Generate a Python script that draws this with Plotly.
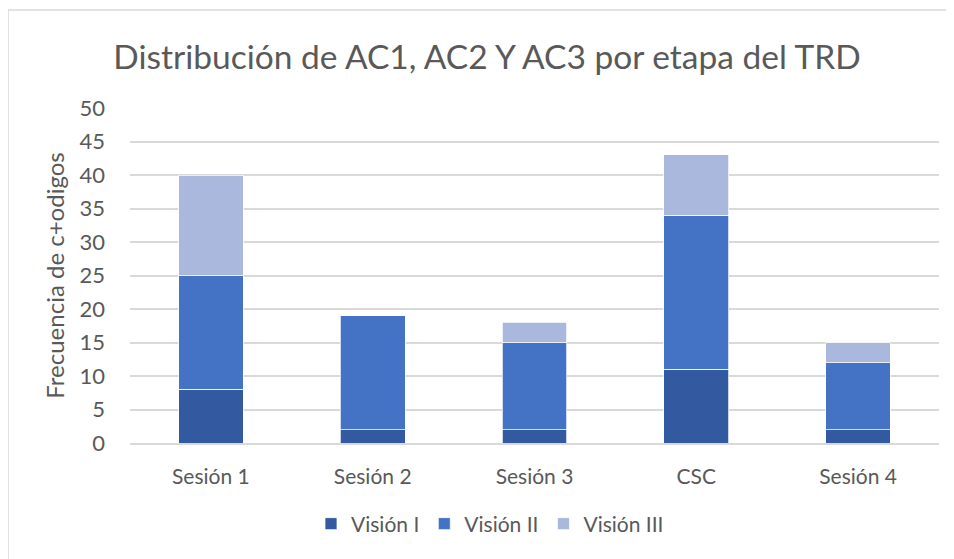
import plotly.graph_objects as go

categories = ["Sesión 1", "Sesión 2", "Sesión 3", "CSC", "Sesión 4"]
vision_i = [8, 2, 2, 11, 2]
vision_ii = [17, 17, 13, 23, 10]
vision_iii = [15, 0, 3, 9, 3]
series_names = ["Visión I", "Visión II", "Visión III"]
colors = ["#335AA1", "#4472C4", "#A9B8DC"]

FONT = "Lato, 'Open Sans', sans-serif"
TXT = "#595959"

fig = go.Figure()
for name, vals, col in zip(series_names, [vision_i, vision_ii, vision_iii], colors):
    fig.add_trace(go.Bar(
        x=categories, y=vals, name=name,
        marker=dict(color=col, line=dict(color="white", width=0.75)),
    ))

# page body has an 8px offset; figure coords = screen coords - 8
OFF = 8
W, H = 954, 559
L, R, T, B = 130 - OFF, W - (939 - OFF), 108 - OFF, H - (443 - OFF)
pw, ph = W - L - R, H - T - B

def px(x):
    return (x - OFF - L) / pw

def py(y):
    return (H - B - (y - OFF)) / ph

fig.update_layout(
    barmode="stack",
    bargap=0.6,
    width=W, height=H,
    margin=dict(l=L, r=R, t=T, b=B),
    paper_bgcolor="white", plot_bgcolor="white",
    font=dict(family=FONT, color=TXT, size=22),
    title=dict(
        text="Distribución de AC1, AC2 Y AC3 por etapa del TRD",
        x=(487 - OFF) / W, xanchor="center", y=1 - (57 - OFF) / H, yanchor="middle",
        font=dict(size=33.5, color=TXT, family=FONT),
    ),
    legend=dict(
        orientation="h", x=(490 - OFF) / W, xref="container", xanchor="center",
        y=1 - (524 - OFF) / H, yref="container", yanchor="middle",
        font=dict(size=21, color=TXT), traceorder="normal",
        itemwidth=30,
    ),
    xaxis=dict(
        showgrid=False, showline=True, linecolor="#D9D9D9", linewidth=1.5,
        ticks="", ticklabelstandoff=14, tickfont=dict(size=21, color=TXT),
    ),
    yaxis=dict(
        range=[0, 50], dtick=5, showgrid=True, gridcolor="#D9D9D9", gridwidth=1.5,
        zeroline=False, ticks="", ticklabelstandoff=24,
        tickfont=dict(size=22, color=TXT),
        title=dict(text="Frecuencia de c+odigos", font=dict(size=24, color=TXT), standoff=8),
    ),
    shapes=[dict(
        type="rect", xref="paper", yref="paper",
        x0=px(8), x1=px(980), y0=py(10), y1=py(585),
        line=dict(color="#D9D9D9", width=1.5), fillcolor="rgba(0,0,0,0)", layer="below",
    )],
)

fig.write_html("out.html")
